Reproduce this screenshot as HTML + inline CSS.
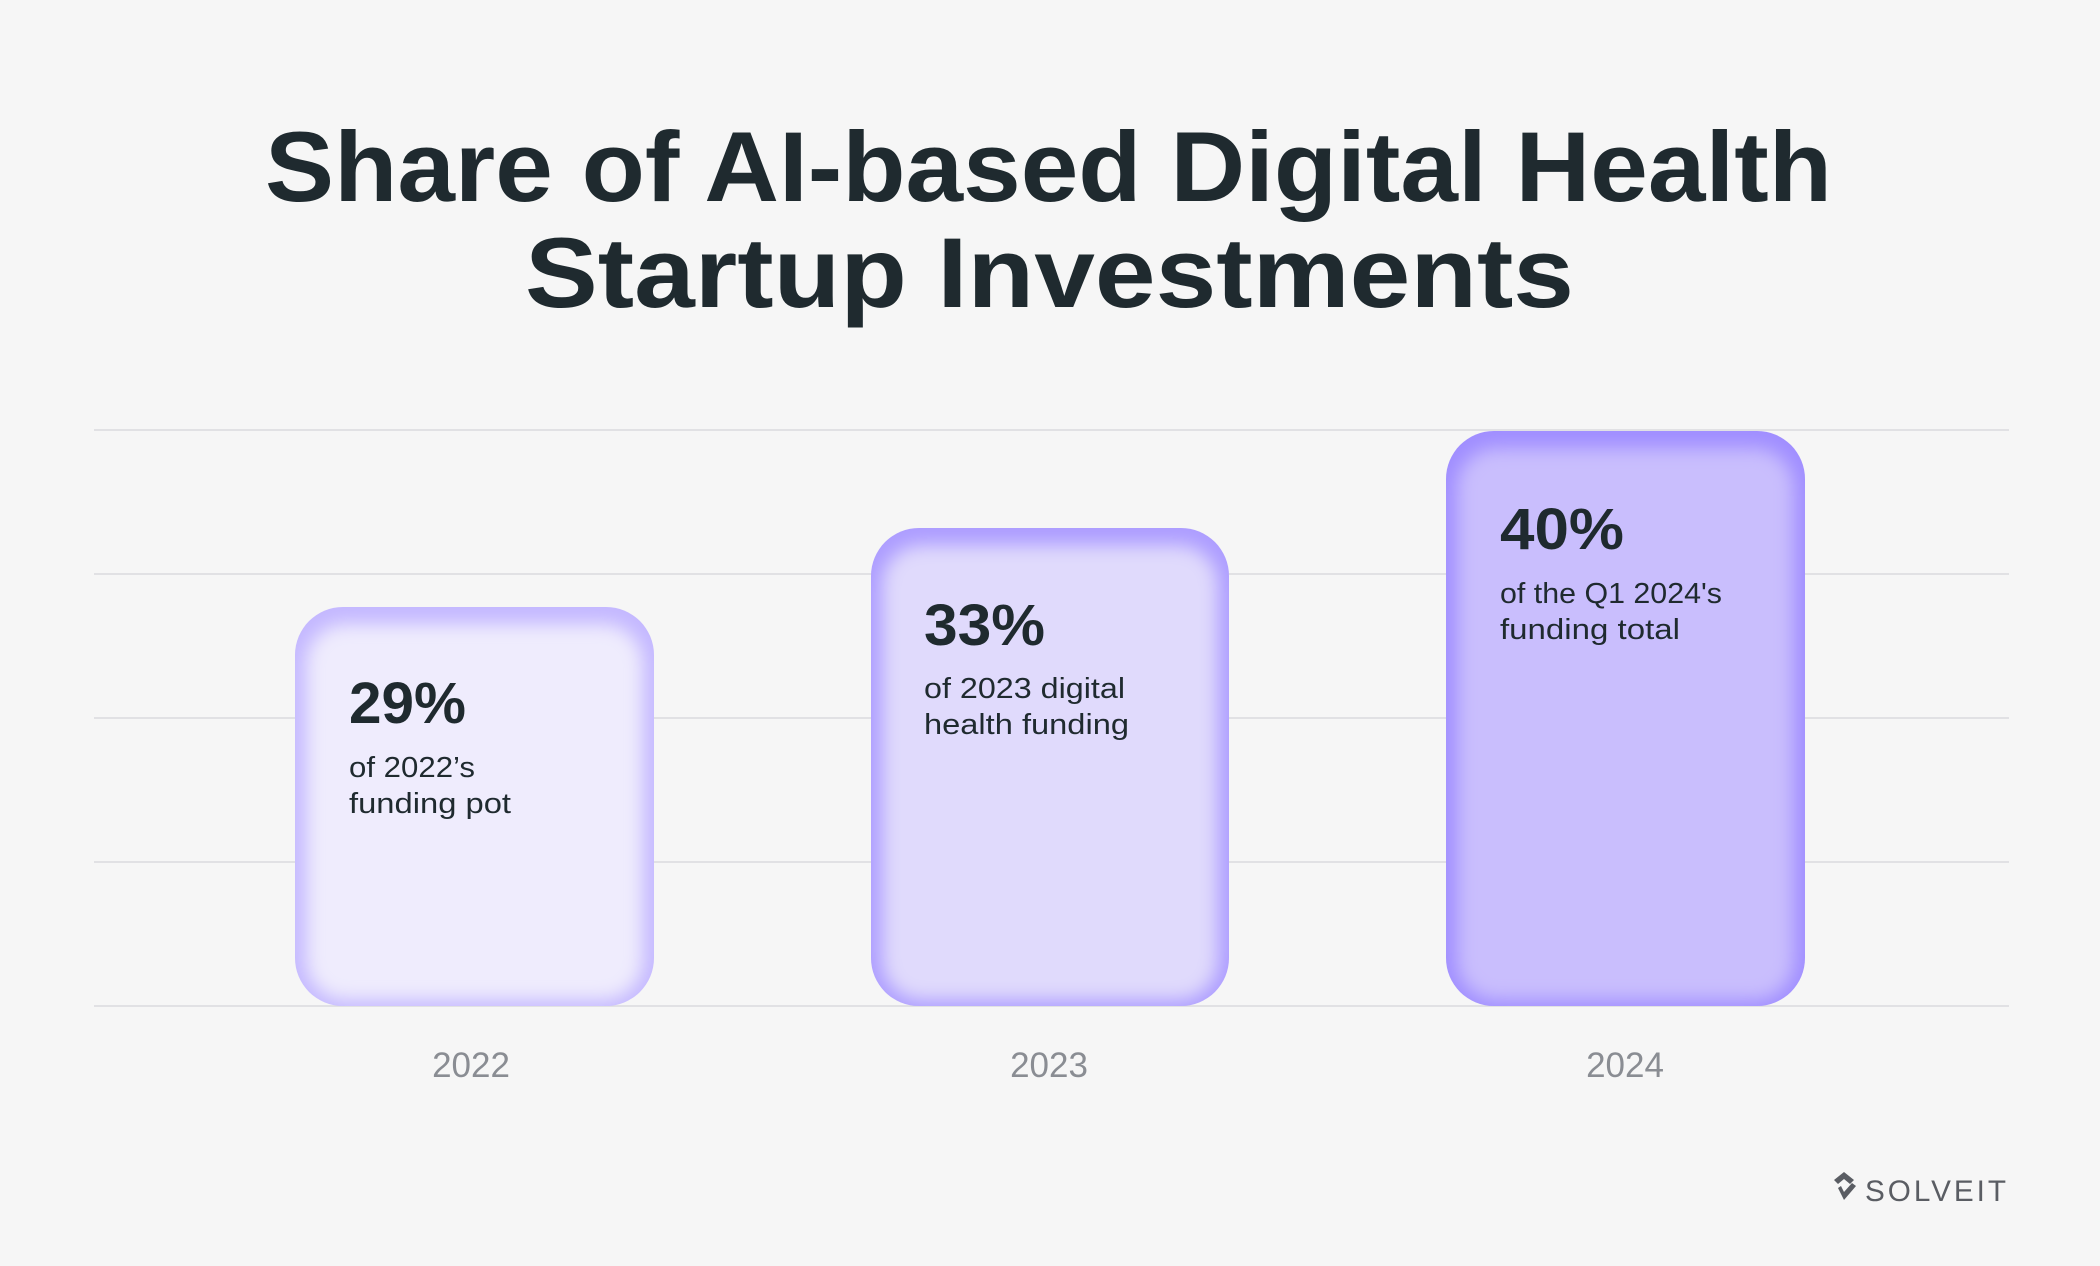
<!DOCTYPE html>
<html><head><meta charset="utf-8"><style>
html,body{margin:0;padding:0;background:#f6f6f6}
svg{display:block}
</style></head><body>
<svg width="2100" height="1266" viewBox="0 0 2100 1266" xmlns="http://www.w3.org/2000/svg" font-family="Liberation Sans, sans-serif">
<defs>
<filter id="glow" x="-10%" y="-10%" width="120%" height="120%">
<feGaussianBlur stdDeviation="9"/>
</filter>
<clipPath id="c1"><rect x="295" y="607" width="359" height="399" rx="48"/></clipPath>
<clipPath id="c2"><rect x="871" y="528" width="358" height="478" rx="48"/></clipPath>
<clipPath id="c3"><rect x="1446" y="431" width="359" height="575" rx="48"/></clipPath>
</defs>
<rect width="2100" height="1266" fill="#f6f6f6"/>
<g stroke="#dadade" stroke-width="1.5">
<line x1="94" y1="430" x2="2009" y2="430"/>
<line x1="94" y1="574" x2="2009" y2="574"/>
<line x1="94" y1="718" x2="2009" y2="718"/>
<line x1="94" y1="862" x2="2009" y2="862"/>
<line x1="94" y1="1006" x2="2009" y2="1006"/>
</g>
<g fill="#1f2a2f" font-weight="bold" font-size="99">
<text x="265" y="201" textLength="1567" lengthAdjust="spacingAndGlyphs">Share of AI-based Digital Health</text>
<text x="525" y="307" textLength="1049" lengthAdjust="spacingAndGlyphs">Startup Investments</text>
</g>
<g clip-path="url(#c1)">
<rect x="295" y="607" width="359" height="399" fill="#c4b8ff"/>
<rect x="306" y="624" width="337" height="376" rx="40" fill="#efecfd" filter="url(#glow)"/>
</g>
<g clip-path="url(#c2)">
<rect x="871" y="528" width="358" height="478" fill="#ad9dff"/>
<rect x="882" y="545" width="336" height="455" rx="40" fill="#e0dafc" filter="url(#glow)"/>
</g>
<g clip-path="url(#c3)">
<rect x="1446" y="431" width="359" height="575" fill="#a08eff"/>
<rect x="1457" y="448" width="337" height="552" rx="40" fill="#c9befd" filter="url(#glow)"/>
</g>
<g fill="#1f2a2f">
<text x="349" y="723" font-size="58" font-weight="bold" textLength="117" lengthAdjust="spacingAndGlyphs">29%</text>
<text x="349" y="777" font-size="29" textLength="126" lengthAdjust="spacingAndGlyphs">of 2022’s</text>
<text x="349" y="813" font-size="29" textLength="162" lengthAdjust="spacingAndGlyphs">funding pot</text>
<text x="924" y="645" font-size="58" font-weight="bold" textLength="121" lengthAdjust="spacingAndGlyphs">33%</text>
<text x="924" y="698" font-size="29" textLength="201" lengthAdjust="spacingAndGlyphs">of 2023 digital</text>
<text x="924" y="734" font-size="29" textLength="205" lengthAdjust="spacingAndGlyphs">health funding</text>
<text x="1500" y="549" font-size="58" font-weight="bold" textLength="124" lengthAdjust="spacingAndGlyphs">40%</text>
<text x="1500" y="603" font-size="29" textLength="222" lengthAdjust="spacingAndGlyphs">of the Q1 2024's</text>
<text x="1500" y="639" font-size="29" textLength="180" lengthAdjust="spacingAndGlyphs">funding total</text>
</g>
<g fill="#8a8d93" font-size="35" text-anchor="middle">
<text x="471" y="1077">2022</text>
<text x="1049" y="1077">2023</text>
<text x="1625" y="1077">2024</text>
</g>
<path d="M1834 1180 l10 -8 l10 8 l-4 4 l-6 -5 l-6 5 z M1838 1188 l6 12 l12 -14 l-4 -3 l-8 9 l-3 -6 z" fill="#5a5d63"/>
<text x="1865" y="1201" font-size="30" fill="#5a5d63" letter-spacing="3" textLength="144" lengthAdjust="spacingAndGlyphs">SOLVEIT</text>
</svg>
</body></html>
